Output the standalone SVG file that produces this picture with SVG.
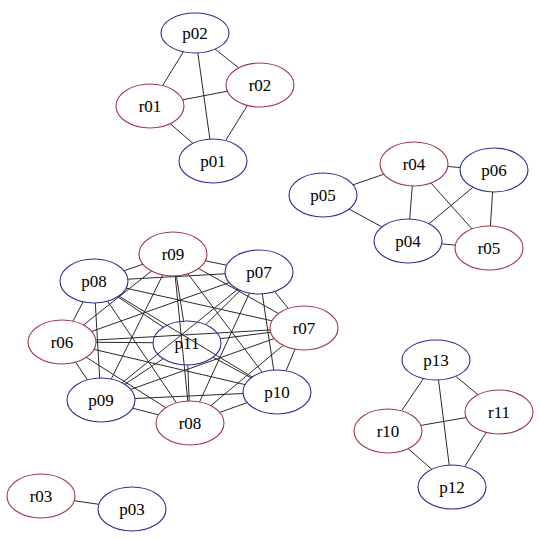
<svg xmlns="http://www.w3.org/2000/svg" width="540" height="539" viewBox="0 0 540 539">
<style>
.e{stroke:#2a2a2a;stroke-width:1;fill:none}
.r{fill:none;stroke:#a33a42;stroke-width:1.1}
.p{fill:none;stroke:#2e2e92;stroke-width:1.1}
text{font-family:"Liberation Serif","Times New Roman",serif;font-size:17px;fill:#000;text-anchor:middle}
</style>
<rect width="540" height="539" fill="#fff"/>
<g id="connectors">
<line class="e" x1="183.4" y1="51.8" x2="162.6" y2="85.6"/>
<line class="e" x1="215.1" y1="49.1" x2="238.6" y2="67.9"/>
<line class="e" x1="197.8" y1="52.9" x2="209.9" y2="139.1"/>
<line class="e" x1="182.6" y1="99.8" x2="227.4" y2="91.2"/>
<line class="e" x1="170.2" y1="123.7" x2="192.8" y2="143.3"/>
<line class="e" x1="247.4" y1="105.4" x2="225.6" y2="140.6"/>
<line class="e" x1="353.1" y1="184.8" x2="383.9" y2="174.2"/>
<line class="e" x1="349.1" y1="209.1" x2="381.9" y2="226.9"/>
<line class="e" x1="412.3" y1="186" x2="409.7" y2="219"/>
<line class="e" x1="447.8" y1="166.5" x2="460.2" y2="167.5"/>
<line class="e" x1="431" y1="183.1" x2="472" y2="228.9"/>
<line class="e" x1="429" y1="223.7" x2="473" y2="187.3"/>
<line class="e" x1="441.7" y1="243.9" x2="455.3" y2="245.1"/>
<line class="e" x1="492.6" y1="192" x2="490.4" y2="226"/>
<line class="e" x1="74.2" y1="500.7" x2="98.8" y2="504.3"/>
<line class="e" x1="423.4" y1="378.6" x2="401.6" y2="410.8"/>
<line class="e" x1="455.7" y1="376.3" x2="478" y2="394.7"/>
<line class="e" x1="438.5" y1="379.9" x2="449.2" y2="465.1"/>
<line class="e" x1="420.9" y1="425.4" x2="466.1" y2="417.6"/>
<line class="e" x1="408.2" y1="448.7" x2="431.8" y2="469.3"/>
<line class="e" x1="486.2" y1="432.4" x2="464.8" y2="466.6"/>
<line class="e" x1="142.9" y1="264.3" x2="124.1" y2="270.7"/>
<line class="e" x1="205.4" y1="260.8" x2="226.6" y2="265.2"/>
<line class="e" x1="198.6" y1="268.5" x2="278.4" y2="313.5"/>
<line class="e" x1="151.5" y1="271" x2="83.5" y2="325"/>
<line class="e" x1="176.4" y1="275.9" x2="183.6" y2="321.1"/>
<line class="e" x1="162.7" y1="275" x2="111.3" y2="379"/>
<line class="e" x1="187.9" y1="273.8" x2="262.1" y2="372.2"/>
<line class="e" x1="175.2" y1="276" x2="187.8" y2="401"/>
<line class="e" x1="127.9" y1="279.2" x2="225.1" y2="273.8"/>
<line class="e" x1="126.1" y1="288.2" x2="271.9" y2="320.8"/>
<line class="e" x1="83.1" y1="301.8" x2="72.9" y2="321.2"/>
<line class="e" x1="117.7" y1="296.8" x2="163.3" y2="327.2"/>
<line class="e" x1="95.3" y1="303" x2="99.7" y2="378"/>
<line class="e" x1="118.8" y1="296" x2="252.2" y2="377"/>
<line class="e" x1="107.6" y1="301.2" x2="176.4" y2="402.8"/>
<line class="e" x1="274.7" y1="291.5" x2="288.3" y2="308.5"/>
<line class="e" x1="229.2" y1="282.6" x2="91.8" y2="331.4"/>
<line class="e" x1="240.3" y1="290.4" x2="205.7" y2="324.6"/>
<line class="e" x1="237.8" y1="289.2" x2="122.2" y2="382.8"/>
<line class="e" x1="262.3" y1="293.9" x2="273.7" y2="370.1"/>
<line class="e" x1="249.4" y1="293.1" x2="199.6" y2="401.9"/>
<line class="e" x1="270.1" y1="330" x2="95.9" y2="340"/>
<line class="e" x1="270.6" y1="332.3" x2="220.4" y2="338.7"/>
<line class="e" x1="274.2" y1="338.6" x2="130.8" y2="389.4"/>
<line class="e" x1="295" y1="349.2" x2="286" y2="370.8"/>
<line class="e" x1="283.1" y1="345.4" x2="210.9" y2="405.6"/>
<line class="e" x1="96" y1="342.3" x2="153" y2="342.7"/>
<line class="e" x1="75.6" y1="362.2" x2="87.4" y2="379.8"/>
<line class="e" x1="94" y1="349.4" x2="245" y2="384.6"/>
<line class="e" x1="86.3" y1="357.4" x2="165.7" y2="407.6"/>
<line class="e" x1="163.2" y1="358.7" x2="124.8" y2="384.3"/>
<line class="e" x1="213" y1="357.2" x2="251" y2="377.8"/>
<line class="e" x1="187.8" y1="365" x2="189.2" y2="401"/>
<line class="e" x1="134.9" y1="398.5" x2="243.1" y2="393.5"/>
<line class="e" x1="132.6" y1="408.2" x2="158.4" y2="414.8"/>
<line class="e" x1="247.2" y1="402.6" x2="219.8" y2="412.4"/>
</g>
<g id="p02"><ellipse class="p" cx="195" cy="33" rx="34" ry="20"/><text x="195" y="39">p02</text></g>
<g id="r01"><ellipse class="r" cx="150" cy="106" rx="34" ry="22"/><text x="150" y="112">r01</text></g>
<g id="r02"><ellipse class="r" cx="260" cy="85" rx="34" ry="22"/><text x="260" y="91">r02</text></g>
<g id="p01"><ellipse class="p" cx="213" cy="161" rx="34" ry="22"/><text x="213" y="167">p01</text></g>
<g id="r04"><ellipse class="r" cx="414" cy="164" rx="34" ry="22"/><text x="414" y="170">r04</text></g>
<g id="p06"><ellipse class="p" cx="494" cy="170" rx="34" ry="22"/><text x="494" y="176">p06</text></g>
<g id="p05"><ellipse class="p" cx="323" cy="195" rx="34" ry="22"/><text x="323" y="201">p05</text></g>
<g id="p04"><ellipse class="p" cx="408" cy="241" rx="34" ry="22"/><text x="408" y="247">p04</text></g>
<g id="r05"><ellipse class="r" cx="489" cy="248" rx="34" ry="22"/><text x="489" y="254">r05</text></g>
<g id="r09"><ellipse class="r" cx="173" cy="254" rx="34" ry="22"/><text x="173" y="260">r09</text></g>
<g id="p08"><ellipse class="p" cx="94" cy="281" rx="34" ry="22"/><text x="94" y="287">p08</text></g>
<g id="p07"><ellipse class="p" cx="259" cy="272" rx="34" ry="22"/><text x="259" y="278">p07</text></g>
<g id="r07"><ellipse class="r" cx="304" cy="328" rx="34" ry="22"/><text x="304" y="334">r07</text></g>
<g id="r06"><ellipse class="r" cx="62" cy="342" rx="34" ry="22"/><text x="62" y="348">r06</text></g>
<g id="p11"><ellipse class="p" cx="187" cy="343" rx="34" ry="22"/><text x="187" y="349">p11</text></g>
<g id="p09"><ellipse class="p" cx="101" cy="400" rx="34" ry="22"/><text x="101" y="406">p09</text></g>
<g id="p10"><ellipse class="p" cx="277" cy="392" rx="34" ry="22"/><text x="277" y="398">p10</text></g>
<g id="r08"><ellipse class="r" cx="190" cy="423" rx="34" ry="22"/><text x="190" y="429">r08</text></g>
<g id="p13"><ellipse class="p" cx="436" cy="360" rx="34" ry="20"/><text x="436" y="366">p13</text></g>
<g id="r10"><ellipse class="r" cx="388" cy="431" rx="34" ry="22"/><text x="388" y="437">r10</text></g>
<g id="r11"><ellipse class="r" cx="499" cy="412" rx="34" ry="22"/><text x="499" y="418">r11</text></g>
<g id="p12"><ellipse class="p" cx="452" cy="487" rx="34" ry="22"/><text x="452" y="493">p12</text></g>
<g id="r03"><ellipse class="r" cx="41" cy="496" rx="34" ry="22"/><text x="41" y="502">r03</text></g>
<g id="p03"><ellipse class="p" cx="132" cy="509" rx="34" ry="22"/><text x="132" y="515">p03</text></g>
</svg>
